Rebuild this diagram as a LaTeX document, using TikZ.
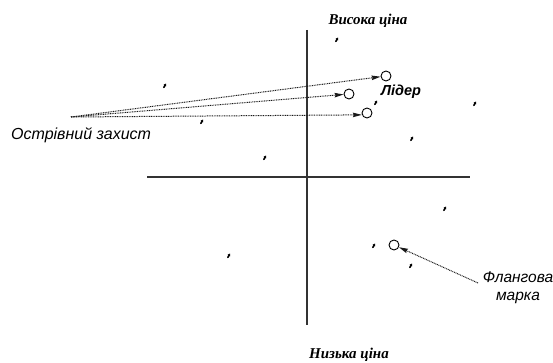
\documentclass[tikz,border=0pt]{standalone}
\usepackage{fontspec}
\setmainfont{Liberation Serif}
\setsansfont{Liberation Sans}
\usetikzlibrary{arrows.meta}
\begin{document}
\begin{tikzpicture}[x=1pt,y=-1pt,
  axis/.style={line width=1.1pt, black!80},
  pt/.style={circle, draw, line width=0.9pt, minimum size=10pt, inner sep=0pt},
  dotarrow/.style={line width=1pt, dash pattern=on 0.9pt off 0.8pt, black!90,
    -{Stealth[length=9pt,width=4.5pt,inset=1pt]}, shorten >=0pt},
  tick/.style={line width=1.6pt, line cap=round, -{Latex[length=2.6pt,width=3.4pt]}},
  price/.style={font=\fontsize{15}{17}\selectfont\bfseries\itshape},
  lab/.style={font=\sffamily\itshape\fontsize{16}{18}\selectfont},
]
\useasboundingbox (0,0) rectangle (553,363);
% axes
\draw[axis] (307,30) -- (307,325);
\draw[axis] (147,177) -- (470,177);
% labels
\node[price, anchor=base, inner sep=0pt] (hi) at (368,25) {Висока ціна};
\node[price, anchor=base, inner sep=0pt] (lo) at (349,358) {Низька ціна};
\node[lab, anchor=base west, inner sep=0pt] (isl) at (11,140) {Острівний захист};
\node[font=\sffamily\bfseries\itshape\fontsize{14.5}{16}\selectfont, anchor=base west, inner sep=0pt] (lead) at (381,96) {Лідер};
\node[font=\sffamily\itshape\fontsize{15.5}{18}\selectfont, anchor=base, inner sep=0pt] (fl1) at (518,282) {Флангова};
\node[font=\sffamily\itshape\fontsize{15.5}{18}\selectfont, anchor=base, inner sep=0pt] (fl2) at (518,300) {марка};
% circles
\node[pt] (c1) at (386,76) {};
\node[pt] (c2) at (349,94) {};
\node[pt] (c3) at (367,113) {};
\node[pt] (cf) at (394,245) {};
% arrows
\coordinate (src) at (71,117);
\coordinate (ftail) at (478,283);
\draw[dotarrow] (src) -- (c1);
\draw[dotarrow] (src) -- (c2);
\draw[dotarrow] (src) -- (c3.200);
\draw[dotarrow] (ftail) -- (cf);
% small marks
\foreach \x/\y in {337/39, 165/85, 202/121, 265/157, 376/102, 475/103, 412/138, 445/208, 229/255, 374/245, 411/265}{
  \draw[tick] (\x-1.2,\y+2.4) -- (\x+1.2,\y-1.6);
}
\end{tikzpicture}
\end{document}
